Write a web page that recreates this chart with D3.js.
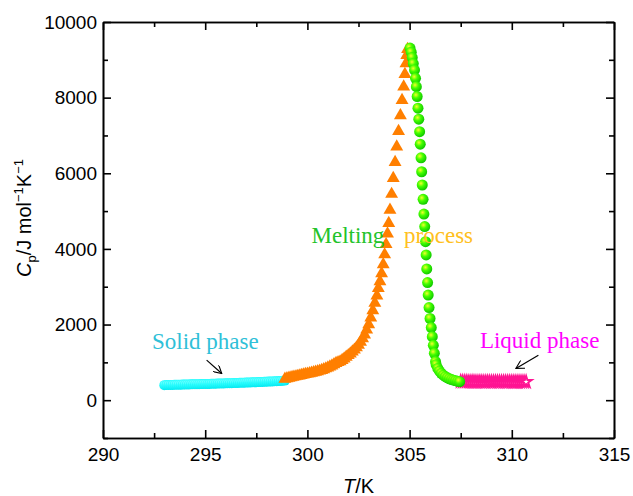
<!DOCTYPE html>
<html>
  <head>
    <meta charset="utf-8">
    <script src="https://cdn.jsdelivr.net/npm/d3@7"></script>
    <style>
      body { margin: 0; background: #fff; }
      .axis text { font-family: "Liberation Sans", Arial, sans-serif; font-size: 19px; fill: #000; }
      .axis path, .axis line { stroke: #000; stroke-width: 1.6; }
      .lbl { font-family: "Liberation Serif", "Times New Roman", serif; font-size: 23px; }
    </style>
  </head>
  <body>
    <svg width="633" height="496"></svg>
    <script>
    // Solid phase (cyan circles)
    var solidT = [293.0,293.1,293.2,293.3,293.4,293.5,293.6,293.7,293.8,293.9,
                  294.0,294.1,294.2,294.3,294.4,294.5,294.6,294.7,294.8,294.9,
                  295.0,295.1,295.2,295.3,295.4,295.5,295.6,295.7,295.8,295.9,
                  296.0,296.1,296.2,296.3,296.4,296.5,296.6,296.7,296.8,296.9,
                  297.0,297.1,297.2,297.3,297.4,297.5,297.6,297.7,297.8,297.9,
                  298.0,298.1,298.2,298.3,298.4,298.5,298.6,298.7,298.8,298.9];
    var solidCp = [398,400,401,403,404,406,407,409,410,412,
                   413,415,416,418,419,421,422,424,425,427,
                   428,430,431,433,435,436,438,440,441,443,
                   445,447,449,451,453,455,457,459,461,463,
                   465,467,469,471,474,476,478,481,483,486,
                   488,491,494,497,500,503,506,510,514,518];

    // Melting, heating side (orange triangles)
    var riseT = [298.9,299.0,299.1,299.2,299.3,299.4,299.5,299.6,299.7,299.8,299.9,
                 300.0,300.1,300.2,300.3,300.4,300.5,300.6,300.7,300.8,300.9,
                 301.0,301.1,301.2,301.3,301.4,301.5,301.6,301.7,301.8,301.9,
                 302.0,302.1,302.2,302.3,302.4,302.5,302.6,302.7,302.8,302.9,
                 303.0,303.1,303.2,303.3,303.4,303.47,303.55,303.63,303.71,303.78,
                 303.85,303.92,303.98,304.04,304.12,304.2,304.29,304.37,304.46,304.55,
                 304.63,304.71,304.77,304.82,304.86,304.9];
    var riseCp = [560,575,588,600,612,624,636,648,660,672,684,
                  696,708,720,733,746,760,775,792,812,834,
                  858,884,912,942,975,1000,1020,1055,1095,1140,
                  1185,1230,1280,1330,1390,1460,1540,1630,1730,1860,
                  2000,2180,2370,2570,2760,2960,3140,3350,3590,3850,
                  4120,4400,4680,5030,5450,5870,6290,6700,7110,7530,
                  7930,8290,8620,8900,9120,9280];

    // Melting, falling side (green spheres)
    var fallT = [305.02,305.08,305.13,305.18,305.24,305.29,305.33,305.37,305.41,305.45,
                 305.49,305.52,305.56,305.59,305.62,305.66,305.7,305.74,305.78,305.81,
                 305.84,305.88,305.91,305.95,306.0,306.06,306.11,306.16,306.21,306.27,
                 306.3,306.38,306.46,306.55,306.65,306.75,306.85,306.95,307.05,307.15,
                 307.25,307.35,307.45];
    var fallCp = [9310,9200,9060,8900,8730,8510,8290,8030,7720,7430,
                  7100,6770,6410,6040,5690,5310,4920,4590,4190,3840,
                  3470,3110,2780,2450,2160,1920,1680,1450,1240,1020,
                  940,840,770,710,660,620,590,565,545,530,
                  515,500,490];

    // Liquid phase (pink stars)
    var liquidT = [307.5,307.6,307.7,307.8,307.9,308.0,308.1,308.2,308.3,308.4,308.5,
                   308.6,308.7,308.8,308.9,309.0,309.1,309.2,309.3,309.4,309.5,
                   309.6,309.7,309.8,309.9,310.0,310.1,310.2,310.3,310.4,310.5,
                   310.6,310.7];
    var liquidCp = [495,492,490,491,489,488,490,489,487,488,489,
                    487,486,488,487,486,487,488,486,485,487,
                    486,485,486,487,485,484,486,485,484,485,
                    486,484];

    var xMajor = [290, 295, 300, 305, 310, 315];
    var xMinor = [292.5, 297.5, 302.5, 307.5, 312.5];
    var yMajor = [0, 2000, 4000, 6000, 8000, 10000];
    var yMinor = [-1000, 1000, 3000, 5000, 7000, 9000];

    var svg = d3.select("svg");
    var padL = 103, padR = 614, padT = 22, padB = 438;

    var x = d3.scaleLinear().domain([290, 315]).range([padL, padR]);
    var y = d3.scaleLinear().domain([-1000, 10000]).range([padB, padT]);

    function zip(a, b) {
      return a.map(function(v, i) { return {t: v, cp: b[i]}; });
    }

    // gradients for the shaded markers
    var defs = svg.append("defs");
    var g1 = defs.append("radialGradient").attr("id", "ball")
      .attr("cx", "38%").attr("cy", "35%").attr("r", "65%");
    g1.append("stop").attr("offset", "0%").attr("stop-color", "#f4ff2a");
    g1.append("stop").attr("offset", "45%").attr("stop-color", "#44ff00");
    g1.append("stop").attr("offset", "100%").attr("stop-color", "#10c800");
    var g2 = defs.append("radialGradient").attr("id", "cyanball")
      .attr("cx", "40%").attr("cy", "35%").attr("r", "65%");
    g2.append("stop").attr("offset", "0%").attr("stop-color", "#e6ffff");
    g2.append("stop").attr("offset", "45%").attr("stop-color", "#30ffff");
    g2.append("stop").attr("offset", "100%").attr("stop-color", "#00e8f0");
    defs.append("marker").attr("id", "arr")
      .attr("viewBox", "0 0 10 10").attr("refX", 9).attr("refY", 5)
      .attr("markerWidth", 9).attr("markerHeight", 9).attr("orient", "auto")
      .attr("markerUnits", "userSpaceOnUse")
      .append("path").attr("d", "M0,0L9,5L0,10")
      .attr("fill", "none").attr("stroke", "#000").attr("stroke-width", 1.2);

    // axes, ticks pointing inwards on all four sides
    function frame(axis, tr, vals, size, labels) {
      var a = axis.tickValues(vals).tickSizeInner(-size).tickSizeOuter(0)
        .tickFormat(labels ? d3.format("d") : "");
      var g = svg.append("g").attr("class", "axis").attr("transform", tr).call(a);
      return g;
    }
    frame(d3.axisBottom(x), "translate(0," + padB + ")", xMajor, 8, true).call(a => a.selectAll("text").attr("y", 10));
    frame(d3.axisBottom(x), "translate(0," + padB + ")", xMinor, 5, false);
    frame(d3.axisTop(x), "translate(0," + padT + ")", xMajor, 8, false);
    frame(d3.axisTop(x), "translate(0," + padT + ")", xMinor, 5, false);
    frame(d3.axisLeft(y), "translate(" + padL + ",0)", yMajor, 8, true).call(a => a.selectAll("text").attr("x", -6));
    frame(d3.axisLeft(y), "translate(" + padL + ",0)", yMinor, 5, false);
    frame(d3.axisRight(y), "translate(" + padR + ",0)", yMajor, 8, false);
    frame(d3.axisRight(y), "translate(" + padR + ",0)", yMinor, 5, false);
    svg.selectAll(".axis text").attr("fill", "#000");

    // data
    svg.append("g").selectAll("circle").data(zip(solidT, solidCp)).enter()
      .append("circle")
      .attr("cx", d => x(d.t)).attr("cy", d => y(d.cp)).attr("r", 5)
      .attr("fill", "url(#cyanball)");

    svg.append("g").selectAll("path").data(zip(riseT, riseCp)).enter()
      .append("path")
      .attr("d", d3.symbol().type(d3.symbolTriangle).size(72))
      .attr("transform", d => "translate(" + x(d.t) + "," + y(d.cp) + ")")
      .attr("fill", "#ff7f00");

    svg.append("g").selectAll("path").data(zip(liquidT, liquidCp)).enter()
      .append("path")
      .attr("d", d3.symbol().type(d3.symbolStar).size(38))
      .attr("transform", d => "translate(" + x(d.t) + "," + y(d.cp) + ")")
      .attr("fill", "#fff").attr("stroke", "#ff1493").attr("stroke-width", 2);

    svg.append("g").selectAll("circle").data(zip(fallT, fallCp)).enter()
      .append("circle")
      .attr("cx", d => x(d.t)).attr("cy", d => y(d.cp)).attr("r", 5.5)
      .attr("fill", "url(#ball)");

    // labels
    svg.append("text").attr("class", "lbl").attr("x", x(292.4)).attr("y", y(1350))
      .attr("fill", "#2fc0d8").text("Solid phase");
    svg.append("text").attr("class", "lbl").attr("x", x(308.44)).attr("y", y(1376))
      .attr("fill", "#ff00ff").text("Liquid phase");
    svg.append("text").attr("class", "lbl").attr("x", x(300.2)).attr("y", y(4154))
      .attr("fill", "#22c32a").text("Melting");
    svg.append("text").attr("class", "lbl").attr("x", x(304.73)).attr("y", y(4154))
      .attr("fill", "#ffc020").text("process");

    svg.append("line").attr("x1", x(295.07)).attr("y1", y(1058))
      .attr("x2", x(295.81)).attr("y2", y(706))
      .attr("stroke", "#000").attr("stroke-width", 1.2).attr("marker-end", "url(#arr)");
    svg.append("line").attr("x1", x(311.3)).attr("y1", y(1190))
      .attr("x2", x(310.2)).attr("y2", y(840))
      .attr("stroke", "#000").attr("stroke-width", 1.2).attr("marker-end", "url(#arr)");

    // axis titles
    var xt = svg.append("text").attr("x", (padL + padR) / 2).attr("y", 493)
      .attr("text-anchor", "middle")
      .style("font-family", "Liberation Sans, Arial, sans-serif").style("font-size", "20px");
    xt.append("tspan").style("font-style", "italic").text("T");
    xt.append("tspan").text("/K");

    var yt = svg.append("text").attr("transform", "translate(31,277) rotate(-90)")
      .style("font-family", "Liberation Sans, Arial, sans-serif").style("font-size", "20px");
    yt.append("tspan").style("font-style", "italic").text("C");
    yt.append("tspan").attr("dy", 5).style("font-size", "13px").text("p");
    yt.append("tspan").attr("dy", -5).text("/J mol");
    yt.append("tspan").attr("dy", -8).style("font-size", "13px").text("\u22121");
    yt.append("tspan").attr("dy", 8).text("K");
    yt.append("tspan").attr("dy", -8).style("font-size", "13px").text("\u22121");
    </script>
  </body>
</html>
